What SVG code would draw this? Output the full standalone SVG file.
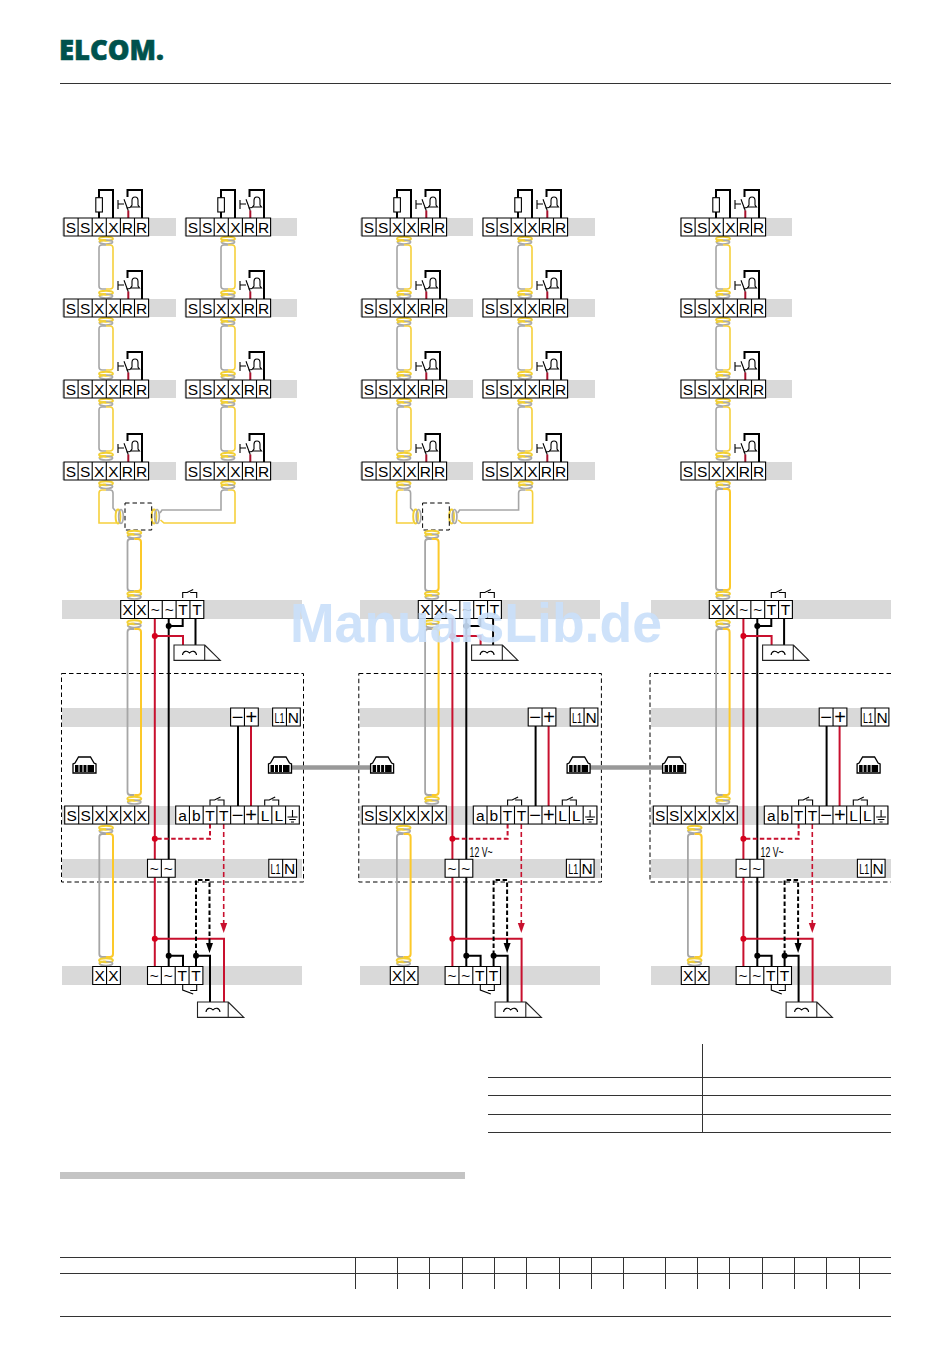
<svg xmlns="http://www.w3.org/2000/svg" xmlns:xlink="http://www.w3.org/1999/xlink" width="950" height="1353" viewBox="0 0 950 1353">
<style>
text{font-family:"Liberation Sans",Arial,sans-serif;fill:#000}
.t{font-size:15.5px;text-anchor:middle}
.l{font-size:15.5px}
.p{font-size:20px;text-anchor:middle}
.v{font-size:14px}
.cell{fill:#fff;stroke:#000;stroke-width:1.1}
.bar{fill:#d9d9d9}
.line{stroke:#333;stroke-width:1;fill:none}
.gy{fill:none;stroke:#a6a6a6;stroke-width:1.6}
.yl{fill:none;stroke:#f6d03c;stroke-width:1.6}
.cy{fill:none;stroke:#f3d033;stroke-width:1.9}
.cg{fill:none;stroke:#aaa;stroke-width:1.7}
.gyb{fill:none;stroke:#a6a6a6;stroke-width:1.8}
.ylb{fill:none;stroke:#fcc92a;stroke-width:2}
.k{fill:none;stroke:#000;stroke-width:2}
.r{fill:none;stroke:#c8102e;stroke-width:2}
.kd{fill:none;stroke:#000;stroke-width:2;stroke-dasharray:4.5 2.5}
.rd{fill:none;stroke:#c8102e;stroke-width:2;stroke-dasharray:4.5 2.5}
.rt{fill:none;stroke:#c8102e;stroke-width:1.6;stroke-dasharray:5 3}
.thin{fill:none;stroke:#000;stroke-width:1.1}
.dash{fill:none;stroke:#000;stroke-width:1;stroke-dasharray:4.5 3}
.rj{fill:none;stroke:#999;stroke-width:4.5}
</style>
<defs>
<path id="st6" class="cell" d="M0,0H84.6V18H0ZM14.1,0V18M28.2,0V18M42.3,0V18M56.4,0V18M70.5,0V18"/>
<path id="m2" class="cell" d="M0,0H27.7V18H0ZM13.85,0V18"/>
<path id="m4" class="cell" d="M0,0H55.4V18H0ZM13.85,0V18M27.7,0V18M41.55,0V18"/>
<path id="m6" class="cell" d="M0,0H83.1V18H0ZM13.85,0V18M27.7,0V18M41.55,0V18M55.4,0V18M69.25,0V18"/>
<path id="sm6" class="cell" d="M0,0H84V18H0ZM14,0V18M28,0V18M42,0V18M56,0V18M70,0V18"/>
<path id="m9" class="cell" d="M0,0H123.6V18H0ZM13.73,0V18M27.47,0V18M41.2,0V18M54.93,0V18M68.67,0V18M82.4,0V18M96.13,0V18M109.87,0V18"/>
<g id="bell">
<path class="thin" d="M54,-18V-9M54,-14H60M60,-18.7L64.3,-7.3"/>
<path fill="none" stroke="#a8102c" stroke-width="2" d="M64.3,-7.5V0"/>
<path class="k" d="M63.5,-21V-28H78V0"/>
<path fill="#fff" stroke="#000" stroke-width="1.1" d="M66.5,-11H75.5L74,-13V-17.5Q74,-21 71,-21Q68,-21 68,-17.5V-13Z"/>
<path class="thin" d="M66.5,-10.5L62.5,-10"/>
</g>
<g id="res">
<path class="k" d="M35,0V-6M35,-20V-28H49V0"/>
<rect x="31.8" y="-20.3" width="6.6" height="14.3" fill="#fff" stroke="#000" stroke-width="1.1"/>
</g>
<g id="coil"><ellipse cx="0" cy="1.8" rx="7" ry="2.1" class="cy"/><ellipse cx="0" cy="5" rx="6.6" ry="2" class="cg"/><path class="cy" d="M-6.8,5C-5.5,2.8 -2.5,2.8 0,3.2"/></g>
<g id="coilv"><ellipse cx="-1.5" cy="0" rx="2.4" ry="7" class="cy"/><ellipse cx="1.5" cy="0" rx="2.3" ry="7" class="cg"/></g>
<g id="link">
<use href="#coil" x="7" y="1"/>
<path class="gy" d="M7,9H3Q0,9 0,12V50Q0,53 3,53H7"/>
<path class="yl" d="M7,9H11Q14,9 14,12V50Q14,53 11,53H7"/>
<use href="#coil" x="7" y="55"/>
</g>
<g id="tee">
<use href="#coil" x="106" y="481.5"/>
<path class="yl" d="M106,490H102Q99,490 99,493V523H116"/>
<path class="gy" d="M106,490H110Q113,490 113,493V508L116.5,512"/>
<use href="#coilv" x="119.5" y="516.5"/>
<use href="#coilv" x="155.5" y="516.5"/>
<path class="gy" d="M160,513L162,510H221V493Q221,490 224,490H228"/>
<path class="yl" d="M228,490H232Q235,490 235,493V523H164L160.5,520"/>
<use href="#coil" x="228" y="481.5"/>
<rect class="dash" x="125" y="503" width="26.7" height="27"/>
<use href="#coil" x="134.3" y="531"/>
<path class="gyb" d="M134.3,539H130.5Q127.5,539 127.5,542V588Q127.5,591 130.5,591H134.3"/>
<path class="ylb" d="M134.3,539H138Q141,539 141,542V588Q141,591 138,591H134.3"/>
<use href="#coil" x="134.3" y="592"/>
</g>
<g id="wiring">
<use href="#coil" x="134.3" y="620.5"/>
<path class="gyb" d="M134.3,629H130.5Q127.5,629 127.5,632V792Q127.5,795 130.5,795H134.3"/>
<path class="ylb" d="M134.3,629H138Q141,629 141,632V792Q141,795 138,795H134.3"/>
<use href="#coil" x="134.3" y="797"/>
<use href="#coil" x="106" y="826"/>
<path class="gyb" d="M106,834H102.3Q99.3,834 99.3,837V954Q99.3,957 102.3,957H106"/>
<path class="ylb" d="M106,834H110Q113,834 113,837V954Q113,957 110,957H106"/>
<use href="#coil" x="106" y="958.5"/>
<path class="r" d="M154.8,618V966"/>
<path class="k" d="M168.7,618V966"/>
<path class="k" d="M168.7,626H182.7V618M195.5,618V645"/>
<circle cx="168.7" cy="626" r="3"/>
<path class="r" d="M154.8,636H183V645"/>
<circle cx="154.8" cy="636" r="3" fill="#d6001c"/>
<path class="k" d="M238,726V806"/>
<path class="r" d="M251,726V806"/>
<path class="rd" d="M210,824V838.7H154.8"/>
<circle cx="154.8" cy="838.7" r="3" fill="#d6001c"/>
<path class="rt" d="M223.7,824V925"/>
<path fill="#c8102e" d="M220.2,923H227.2L223.7,933Z"/>
<path class="r" d="M154.8,938.7H224V1002"/>
<circle cx="154.8" cy="938.7" r="3" fill="#d6001c"/>
<path class="k" d="M168.7,955.7H183V966M196,955.7V966M196,955.7H210V1002"/>
<circle cx="168.7" cy="955.7" r="3"/>
<circle cx="196" cy="955.7" r="3"/>
<path class="kd" d="M196,955V880H209.5V944"/>
<path fill="#000" d="M206,943H213L209.5,953Z"/>
</g>
<g id="opener">
<path fill="#fff" stroke="#222" stroke-width="1.1" d="M0,0H30.7V15.4H0ZM30.7,0L46.3,15.4H30.7"/>
<path class="thin" d="M8.5,10C9,6 13,5 15.5,8C18,5 22,6 22.5,10"/>
</g>
<g id="rjack">
<path fill="#fff" stroke="#000" stroke-width="1.3" d="M0,17V8L2,7L5.5,1H17.5L21,7L23,8V17Z"/>
<path fill="#000" d="M2,9H21V16H2Z"/>
<path stroke="#fff" stroke-width="1" d="M6,9V16M10,9V16M14,9V16"/>
</g>
<path id="relayup" class="thin" d="M0,7V1.5H4.5L10.5,-1.5M7.5,1.5H14V7"/>
<path id="relaydn" class="thin" d="M0,0V5L10.5,9M7.5,5.5H14V0"/>
<path id="gnd" class="thin" d="M0,-1V6M-5,6H5M-3.3,8.5H3.3M-1.5,11H1.5"/>
</defs>

<g id="page-lines">
<path class="line" d="M60,83.5H891M60,1316.5H891"/>
<path class="line" d="M702.5,1044V1132M488,1077.5H891M488,1095.5H891M488,1114.5H891M488,1132.5H891"/>
<path class="line" d="M60,1257.5H891M60,1273.5H891M355.5,1257V1289M397.5,1257V1289M429.5,1257V1289M462.5,1257V1289M494.5,1257V1289M526.5,1257V1289M559.5,1257V1289M591.5,1257V1289M623.5,1257V1289M665.5,1257V1289M697.5,1257V1289M729.5,1257V1289M762.5,1257V1289M794.5,1257V1289M826.5,1257V1289M859.5,1257V1289"/>
</g>
<rect id="grey-rule" x="60" y="1172" width="405" height="7" fill="#c4c4c4"/>
<g id="logo"><text x="59" y="60" font-size="28" font-weight="800" textLength="105" lengthAdjust="spacingAndGlyphs" style="font-family:'Open Sans','Liberation Sans',sans-serif;fill:#00524d;stroke:#00524d;stroke-width:.6">ELCOM.</text></g>

<g id="bars">
<rect class="bar" x="62" y="218" width="114" height="18"/><rect class="bar" x="184.5" y="218" width="112.5" height="18"/><rect class="bar" x="360" y="218" width="113" height="18"/><rect class="bar" x="482" y="218" width="113" height="18"/><rect class="bar" x="680" y="218" width="112" height="18"/>
<rect class="bar" x="62" y="299" width="114" height="18"/><rect class="bar" x="184.5" y="299" width="112.5" height="18"/><rect class="bar" x="360" y="299" width="113" height="18"/><rect class="bar" x="482" y="299" width="113" height="18"/><rect class="bar" x="680" y="299" width="112" height="18"/>
<rect class="bar" x="62" y="380" width="114" height="18"/><rect class="bar" x="184.5" y="380" width="112.5" height="18"/><rect class="bar" x="360" y="380" width="113" height="18"/><rect class="bar" x="482" y="380" width="113" height="18"/><rect class="bar" x="680" y="380" width="112" height="18"/>
<rect class="bar" x="62" y="462" width="114" height="18"/><rect class="bar" x="184.5" y="462" width="112.5" height="18"/><rect class="bar" x="360" y="462" width="113" height="18"/><rect class="bar" x="482" y="462" width="113" height="18"/><rect class="bar" x="680" y="462" width="112" height="18"/>
<rect class="bar" x="62" y="600" width="240" height="19"/><rect class="bar" x="360" y="600" width="240" height="19"/><rect class="bar" x="651" y="600" width="240" height="19"/>
<rect class="bar" x="62" y="708" width="238" height="19"/><rect class="bar" x="360" y="708" width="238" height="19"/><rect class="bar" x="651" y="708" width="238" height="19"/>
<rect class="bar" x="62" y="806" width="238" height="19"/><rect class="bar" x="360" y="806" width="238" height="19"/><rect class="bar" x="651" y="806" width="238" height="19"/>
<rect class="bar" x="62" y="859" width="240" height="19"/><rect class="bar" x="360" y="859" width="240" height="19"/><rect class="bar" x="651" y="859" width="240" height="19"/>
<rect class="bar" x="62" y="966" width="240" height="19"/><rect class="bar" x="360" y="966" width="240" height="19"/><rect class="bar" x="651" y="966" width="240" height="19"/>
</g>

<g id="controllers">
<rect id="controller-a" class="dash" x="61.5" y="673.5" width="242" height="208.5"/>
<rect id="controller-b" class="dash" x="358.8" y="673.5" width="242.6" height="208.5"/>
<path id="controller-c" class="dash" d="M891,673.5H650V882H891"/>
</g>

<g id="connectors">
<use href="#link" x="99" y="236"/><use href="#link" x="221" y="236"/><use href="#link" x="397" y="236"/><use href="#link" x="518" y="236"/><use href="#link" x="716" y="236"/>
<use href="#link" x="99" y="317"/><use href="#link" x="221" y="317"/><use href="#link" x="397" y="317"/><use href="#link" x="518" y="317"/><use href="#link" x="716" y="317"/>
<use href="#link" x="99" y="398"/><use href="#link" x="221" y="398"/><use href="#link" x="397" y="398"/><use href="#link" x="518" y="398"/><use href="#link" x="716" y="398"/>
<use href="#tee"/><use href="#tee" x="297.6"/>
<use href="#coil" x="723" y="481.5"/>
<path class="gyb" d="M723,489H719Q716,489 716,492V587Q716,590 719,590H723"/>
<path class="ylb" d="M723,489H727Q730,489 730,492V587Q730,590 727,590H723"/>
<use href="#coil" x="723" y="592"/>
<use href="#wiring"/><use href="#wiring" x="297.6"/><use href="#wiring" x="588.6"/>
<path class="rj" d="M290,767.5H371M589,767.5H663"/>
</g>

<g id="st-a1" transform="translate(64,218)"><use href="#res"/><use href="#bell"/><use href="#st6"/><text class="t" x="7 21.1 35.2 49.3 63.4 77.5" y="14.5">SSXXRR</text></g>
<g id="st-a2" transform="translate(64,299)"><use href="#bell"/><use href="#st6"/><text class="t" x="7 21.1 35.2 49.3 63.4 77.5" y="14.5">SSXXRR</text></g>
<g id="st-a3" transform="translate(64,380)"><use href="#bell"/><use href="#st6"/><text class="t" x="7 21.1 35.2 49.3 63.4 77.5" y="14.5">SSXXRR</text></g>
<g id="st-a4" transform="translate(64,462)"><use href="#bell"/><use href="#st6"/><text class="t" x="7 21.1 35.2 49.3 63.4 77.5" y="14.5">SSXXRR</text></g>
<g id="st-b1" transform="translate(186,218)"><use href="#res"/><use href="#bell"/><use href="#st6"/><text class="t" x="7 21.1 35.2 49.3 63.4 77.5" y="14.5">SSXXRR</text></g>
<g id="st-b2" transform="translate(186,299)"><use href="#bell"/><use href="#st6"/><text class="t" x="7 21.1 35.2 49.3 63.4 77.5" y="14.5">SSXXRR</text></g>
<g id="st-b3" transform="translate(186,380)"><use href="#bell"/><use href="#st6"/><text class="t" x="7 21.1 35.2 49.3 63.4 77.5" y="14.5">SSXXRR</text></g>
<g id="st-b4" transform="translate(186,462)"><use href="#bell"/><use href="#st6"/><text class="t" x="7 21.1 35.2 49.3 63.4 77.5" y="14.5">SSXXRR</text></g>
<g id="st-c1" transform="translate(362,218)"><use href="#res"/><use href="#bell"/><use href="#st6"/><text class="t" x="7 21.1 35.2 49.3 63.4 77.5" y="14.5">SSXXRR</text></g>
<g id="st-c2" transform="translate(362,299)"><use href="#bell"/><use href="#st6"/><text class="t" x="7 21.1 35.2 49.3 63.4 77.5" y="14.5">SSXXRR</text></g>
<g id="st-c3" transform="translate(362,380)"><use href="#bell"/><use href="#st6"/><text class="t" x="7 21.1 35.2 49.3 63.4 77.5" y="14.5">SSXXRR</text></g>
<g id="st-c4" transform="translate(362,462)"><use href="#bell"/><use href="#st6"/><text class="t" x="7 21.1 35.2 49.3 63.4 77.5" y="14.5">SSXXRR</text></g>
<g id="st-d1" transform="translate(483,218)"><use href="#res"/><use href="#bell"/><use href="#st6"/><text class="t" x="7 21.1 35.2 49.3 63.4 77.5" y="14.5">SSXXRR</text></g>
<g id="st-d2" transform="translate(483,299)"><use href="#bell"/><use href="#st6"/><text class="t" x="7 21.1 35.2 49.3 63.4 77.5" y="14.5">SSXXRR</text></g>
<g id="st-d3" transform="translate(483,380)"><use href="#bell"/><use href="#st6"/><text class="t" x="7 21.1 35.2 49.3 63.4 77.5" y="14.5">SSXXRR</text></g>
<g id="st-d4" transform="translate(483,462)"><use href="#bell"/><use href="#st6"/><text class="t" x="7 21.1 35.2 49.3 63.4 77.5" y="14.5">SSXXRR</text></g>
<g id="st-e1" transform="translate(681,218)"><use href="#res"/><use href="#bell"/><use href="#st6"/><text class="t" x="7 21.1 35.2 49.3 63.4 77.5" y="14.5">SSXXRR</text></g>
<g id="st-e2" transform="translate(681,299)"><use href="#bell"/><use href="#st6"/><text class="t" x="7 21.1 35.2 49.3 63.4 77.5" y="14.5">SSXXRR</text></g>
<g id="st-e3" transform="translate(681,380)"><use href="#bell"/><use href="#st6"/><text class="t" x="7 21.1 35.2 49.3 63.4 77.5" y="14.5">SSXXRR</text></g>
<g id="st-e4" transform="translate(681,462)"><use href="#bell"/><use href="#st6"/><text class="t" x="7 21.1 35.2 49.3 63.4 77.5" y="14.5">SSXXRR</text></g>

<g id="column-a">
<g id="a-top"><use href="#m6" x="120.7" y="600.5"/><use href="#relayup" x="182.7" y="591"/><text class="t" x="127.6 141.5 155.3 169.2 183 196.9" y="615">XX~~TT</text></g>
<g id="a-opener1"><use href="#opener" x="174" y="645"/></g>
<g id="a-pm"><use href="#m2" x="230.6" y="708"/><text class="p" x="237.5 251.4" y="724">−+</text></g>
<g id="a-l1n1"><use href="#m2" x="272.6" y="708"/><text class="l" x="274.4" y="722.5" textLength="10" lengthAdjust="spacingAndGlyphs">L1</text><text class="t" x="293.4" y="722.5">N</text></g>
<g id="a-jack-l"><use href="#rjack" x="73" y="756"/></g>
<g id="a-jack-r"><use href="#rjack" x="268.5" y="756"/></g>
<g id="a-ssxxxx"><use href="#sm6" x="64.7" y="806"/><text class="t" x="71.7 85.7 99.7 113.7 127.7 141.7" y="820.5">SSXXXX</text></g>
<g id="a-ab"><use href="#m9" x="175.7" y="806"/><use href="#relayup" x="210" y="798.5"/><use href="#relayup" x="264.7" y="798.5"/><text class="t" x="182.6 196.3" y="820.5">ab</text><text class="t" x="210 223.8" y="820.5">TT</text><text class="p" x="237.5 251.2" y="822">−+</text><text class="t" x="265 278.7" y="820.5">LL</text><use href="#gnd" x="292.5" y="811"/></g>
<g id="a-ac"><use href="#m2" x="147.5" y="859.3"/><text class="t" x="154.4 168.3" y="873.8">~~</text></g>
<g id="a-l1n2"><use href="#m2" x="268.8" y="859.3"/><text class="l" x="270.6" y="873.8" textLength="10" lengthAdjust="spacingAndGlyphs">L1</text><text class="t" x="289.6" y="873.8">N</text></g>
<g id="a-xx"><use href="#m2" x="92.7" y="966.5"/><text class="t" x="99.6 113.5" y="981">XX</text></g>
<g id="a-bottom"><use href="#m4" x="147.5" y="966.5"/><use href="#relaydn" x="182.7" y="985"/><text class="t" x="154.4 168.3 182.2 196" y="981">~~TT</text></g>
<g id="a-opener2"><use href="#opener" x="197.5" y="1002"/></g>
</g>

<g id="column-b" transform="translate(297.6,0)">
<g id="b-top"><use href="#m6" x="120.7" y="600.5"/><use href="#relayup" x="182.7" y="591"/><text class="t" x="127.6 141.5 155.3 169.2 183 196.9" y="615">XX~~TT</text></g>
<g id="b-opener1"><use href="#opener" x="174" y="645"/></g>
<g id="b-pm"><use href="#m2" x="230.6" y="708"/><text class="p" x="237.5 251.4" y="724">−+</text></g>
<g id="b-l1n1"><use href="#m2" x="272.6" y="708"/><text class="l" x="274.4" y="722.5" textLength="10" lengthAdjust="spacingAndGlyphs">L1</text><text class="t" x="293.4" y="722.5">N</text></g>
<g id="b-jack-l"><use href="#rjack" x="73" y="756"/></g>
<g id="b-jack-r"><use href="#rjack" x="269.5" y="756"/></g>
<g id="b-ssxxxx"><use href="#sm6" x="64.7" y="806"/><text class="t" x="71.7 85.7 99.7 113.7 127.7 141.7" y="820.5">SSXXXX</text></g>
<g id="b-ab"><use href="#m9" x="175.7" y="806"/><use href="#relayup" x="210" y="798.5"/><use href="#relayup" x="264.7" y="798.5"/><text class="t" x="182.6 196.3" y="820.5">ab</text><text class="t" x="210 223.8" y="820.5">TT</text><text class="p" x="237.5 251.2" y="822">−+</text><text class="t" x="265 278.7" y="820.5">LL</text><use href="#gnd" x="292.5" y="811"/></g>
<text class="v" x="172" y="856.5" textLength="23" lengthAdjust="spacingAndGlyphs">12 V~</text>
<g id="b-ac"><use href="#m2" x="147.5" y="859.3"/><text class="t" x="154.4 168.3" y="873.8">~~</text></g>
<g id="b-l1n2"><use href="#m2" x="268.8" y="859.3"/><text class="l" x="270.6" y="873.8" textLength="10" lengthAdjust="spacingAndGlyphs">L1</text><text class="t" x="289.6" y="873.8">N</text></g>
<g id="b-xx"><use href="#m2" x="92.7" y="966.5"/><text class="t" x="99.6 113.5" y="981">XX</text></g>
<g id="b-bottom"><use href="#m4" x="147.5" y="966.5"/><use href="#relaydn" x="182.7" y="985"/><text class="t" x="154.4 168.3 182.2 196" y="981">~~TT</text></g>
<g id="b-opener2"><use href="#opener" x="197.5" y="1002"/></g>
</g>

<g id="column-c" transform="translate(588.6,0)">
<g id="c-top"><use href="#m6" x="120.7" y="600.5"/><use href="#relayup" x="182.7" y="591"/><text class="t" x="127.6 141.5 155.3 169.2 183 196.9" y="615">XX~~TT</text></g>
<g id="c-opener1"><use href="#opener" x="174" y="645"/></g>
<g id="c-pm"><use href="#m2" x="230.6" y="708"/><text class="p" x="237.5 251.4" y="724">−+</text></g>
<g id="c-l1n1"><use href="#m2" x="272.6" y="708"/><text class="l" x="274.4" y="722.5" textLength="10" lengthAdjust="spacingAndGlyphs">L1</text><text class="t" x="293.4" y="722.5">N</text></g>
<g id="c-jack-l"><use href="#rjack" x="74" y="756"/></g>
<g id="c-jack-r"><use href="#rjack" x="268.5" y="756"/></g>
<g id="c-ssxxxx"><use href="#sm6" x="64.7" y="806"/><text class="t" x="71.7 85.7 99.7 113.7 127.7 141.7" y="820.5">SSXXXX</text></g>
<g id="c-ab"><use href="#m9" x="175.7" y="806"/><use href="#relayup" x="210" y="798.5"/><use href="#relayup" x="264.7" y="798.5"/><text class="t" x="182.6 196.3" y="820.5">ab</text><text class="t" x="210 223.8" y="820.5">TT</text><text class="p" x="237.5 251.2" y="822">−+</text><text class="t" x="265 278.7" y="820.5">LL</text><use href="#gnd" x="292.5" y="811"/></g>
<text class="v" x="172" y="856.5" textLength="23" lengthAdjust="spacingAndGlyphs">12 V~</text>
<g id="c-ac"><use href="#m2" x="147.5" y="859.3"/><text class="t" x="154.4 168.3" y="873.8">~~</text></g>
<g id="c-l1n2"><use href="#m2" x="268.8" y="859.3"/><text class="l" x="270.6" y="873.8" textLength="10" lengthAdjust="spacingAndGlyphs">L1</text><text class="t" x="289.6" y="873.8">N</text></g>
<g id="c-xx"><use href="#m2" x="92.7" y="966.5"/><text class="t" x="99.6 113.5" y="981">XX</text></g>
<g id="c-bottom"><use href="#m4" x="147.5" y="966.5"/><use href="#relaydn" x="182.7" y="985"/><text class="t" x="154.4 168.3 182.2 196" y="981">~~TT</text></g>
<g id="c-opener2"><use href="#opener" x="197.5" y="1002"/></g>
</g>

<g id="watermark"><text x="290" y="642" font-size="55" font-weight="bold" textLength="372" lengthAdjust="spacingAndGlyphs" style="fill:#c9dffa;fill-opacity:.9">ManualsLib.de</text></g>
</svg>
